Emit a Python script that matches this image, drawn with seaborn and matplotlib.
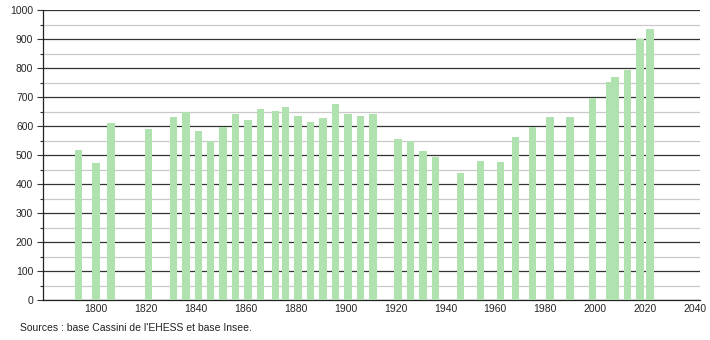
import matplotlib
matplotlib.use("Agg")
import matplotlib.pyplot as plt
import seaborn as sns
import pandas as pd
from matplotlib.ticker import MultipleLocator

years = [1793, 1800, 1806, 1821, 1831, 1836, 1841, 1846, 1851, 1856,
         1861, 1866, 1872, 1876, 1881, 1886, 1891, 1896, 1901, 1906,
         1911, 1921, 1926, 1931, 1936, 1946, 1954, 1962, 1968, 1975,
         1982, 1990, 1999, 2006, 2008, 2013, 2018, 2022]
population = [518, 474, 611, 591, 631, 649, 584, 548, 597, 642,
              622, 657, 652, 667, 636, 615, 627, 677, 643, 636,
              643, 556, 547, 515, 494, 439, 479, 476, 563, 597,
              631, 631, 696, 752, 770, 792, 899, 936]
x_ticks = [1800, 1820, 1840, 1860, 1880, 1900, 1920, 1940, 1960, 1980, 2000, 2020, 2040]
source_text = "Sources : base Cassini de l'EHESS et base Insee."

sns.set_style("white")
plt.rcParams['font.family'] = ['Liberation Sans', 'DejaVu Sans']

fig = plt.figure(figsize=(7.1, 3.4), dpi=100)
ax = fig.add_axes([43/710, 40/340, (700-43)/710, 290/340])

df = pd.DataFrame({"year": years, "pop": population})
sns.barplot(data=df, x="year", y="pop", native_scale=True, width=1.5,
            color="#b0e2b0", saturation=1, edgecolor="none", linewidth=0, ax=ax, zorder=3)

ax.set_xlim(1778.8, 2042)
ax.set_ylim(0, 1000)
ax.set_xticks(x_ticks)
ax.set_xticklabels([str(t) for t in x_ticks])
ax.yaxis.set_major_locator(MultipleLocator(100))
ax.yaxis.set_minor_locator(MultipleLocator(50))
ax.grid(axis="y", which="major", color="#333333", linewidth=0.9, zorder=0)
ax.grid(axis="y", which="minor", color="#c8c8c8", linewidth=0.9, zorder=0)
ax.set_axisbelow(True)
ax.tick_params(axis="y", which="major", length=4, width=0.8, color="#333333", labelsize=7.5, pad=3, direction="out", left=True)
ax.tick_params(axis="y", which="minor", length=2.5, width=0.8, color="#333333", left=True)
ax.tick_params(axis="x", length=0, labelsize=7.5, pad=3)
for s in ["top", "right"]:
    ax.spines[s].set_visible(False)
ax.spines["left"].set_color("#222222")
ax.spines["bottom"].set_color("#222222")
ax.spines["left"].set_linewidth(0.9)
ax.spines["bottom"].set_linewidth(0.9)
ax.set_xlabel("")
ax.set_ylabel("")

fig.text(20/710, 1 - 328/340, source_text, fontsize=7.5, va="center", ha="left", color="#222222")
fig.savefig("out.png", dpi=100)
